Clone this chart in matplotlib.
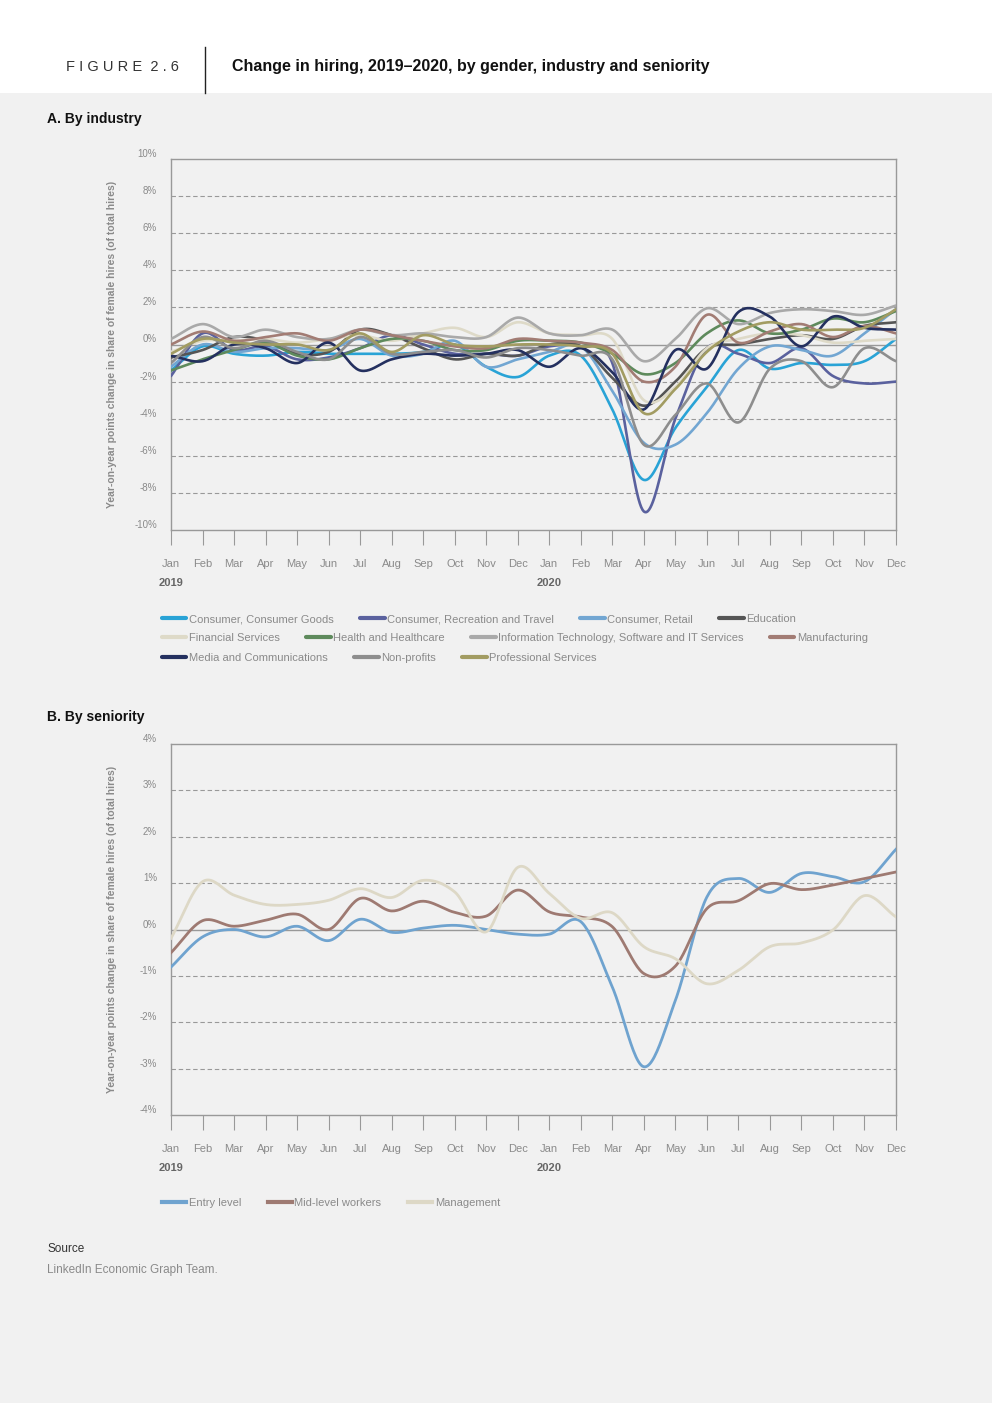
import matplotlib
matplotlib.use('Agg')

import matplotlib.pyplot as plt
import numpy as np
from matplotlib.lines import Line2D

plt.rcParams['font.family'] = ['Liberation Sans', 'DejaVu Sans']

# months shown on the x axis (Jan 2019 .. Dec 2020)
months = ['Jan', 'Feb', 'Mar', 'Apr', 'May', 'Jun', 'Jul', 'Aug', 'Sep', 'Oct', 'Nov', 'Dec'] * 2
years = ['2019', '2020']

# A. By industry (percentage points)
industry_names = [
	'Consumer, Consumer Goods', 'Consumer, Recreation and Travel', 'Consumer, Retail', 'Education',
	'Financial Services', 'Health and Healthcare', 'Information Technology, Software and IT Services', 'Manufacturing',
	'Media and Communications', 'Non-profits', 'Professional Services',
]
consumer_goods = [-1.4, -0.1, -0.5, -0.6, -0.4, -0.5, -0.5, -0.5, -0.4, 0.0, -1.2, -1.75,
				  -0.6, -0.6, -3.5, -7.3, -4.5, -2.3, -0.3, -1.3, -1.0, -1.1, -0.9, 0.3]
recreation = [-1.7, 0.6, -0.3, -0.1, -0.8, -0.7, -0.2, 0.5, 0.0, -0.5, -0.5, -0.6,
			  -0.1, -0.1, -1.0, -9.0, -4.0, -0.2, -0.5, -1.0, -0.2, -1.7, -2.1, -2.0]
retail = [-1.2, 0.0, -0.4, -0.2, -0.2, -0.3, 0.3, -0.6, -0.5, 0.2, -1.2, -0.8,
		  -0.4, -0.1, -2.5, -5.3, -5.4, -3.7, -1.3, -0.1, -0.3, -0.6, 0.6, 1.9]
education = [-0.7, -0.3, 0.4, 0.2, -0.5, -0.4, 0.8, 0.5, -0.2, -0.8, -0.5, -0.6,
			 0.0, -0.1, -1.8, -3.3, -2.0, -0.2, 0.0, 0.3, 0.5, 0.3, 1.0, 1.2]
financial = [-0.4, 0.2, 0.2, 0.3, 0.1, 0.3, 0.5, 0.2, 0.6, 0.9, 0.4, 1.2,
			 0.6, 0.5, 0.3, -3.0, -2.3, -0.2, 0.3, 0.6, 0.5, 0.1, 0.2, 0.3]
health = [-1.4, -0.8, -0.3, 0.1, -0.6, -0.8, -0.2, 0.3, 0.2, -0.3, -0.3, 0.2,
		  0.2, 0.1, -0.5, -1.6, -1.0, 0.6, 1.3, 0.6, 0.8, 1.4, 1.2, 1.8]
info_tech = [0.3, 1.1, 0.4, 0.8, 0.4, 0.3, 0.8, 0.5, 0.6, 0.4, 0.4, 1.45,
			 0.6, 0.5, 0.8, -0.9, 0.3, 1.95, 1.1, 1.7, 1.9, 1.8, 1.6, 2.1]
manufacturing = [0.0, 0.7, 0.2, 0.4, 0.6, 0.2, 0.8, 0.5, 0.2, -0.1, -0.2, 0.3,
				 0.2, 0.1, -0.3, -2.0, -1.2, 1.6, 0.1, 0.7, 1.1, 0.4, 1.0, 0.6]
media = [-0.6, -0.9, 0.0, -0.2, -1.0, 0.1, -1.4, -0.8, -0.5, -0.6, -0.5, -0.3,
		 -1.2, -0.2, -1.5, -3.5, -0.3, -1.3, 1.75, 1.5, -0.1, 1.5, 0.9, 0.8]
non_profits = [-1.0, 0.4, -0.2, 0.2, -0.4, -0.8, 0.4, -0.5, -0.4, -0.3, -0.7, -0.2,
			   -0.3, -0.6, -0.8, -5.4, -3.8, -2.1, -4.2, -1.3, -0.9, -2.3, -0.2, -0.9]
professional = [-0.5, 0.3, 0.1, 0.0, 0.0, -0.3, 0.6, -0.4, 0.5, 0.0, -0.1, 0.0,
				0.0, -0.1, -0.5, -3.7, -2.4, -0.4, 0.7, 1.2, 0.8, 0.8, 0.9, 1.9]
industry_values = [consumer_goods, recreation, retail, education, financial, health,
				   info_tech, manufacturing, media, non_profits, professional]
industry_colors = ['#29a3d6', '#5a619e', '#72a6d2', '#555555', '#dedac8', '#5e8a5c',
				   '#a9a9a9', '#a27c74', '#24305f', '#8e8e8e', '#a29c62']

# B. By seniority (percentage points)
seniority_names = ['Entry level', 'Mid-level workers', 'Management']
entry_level = [-0.81, -0.16, 0.0, -0.16, 0.07, -0.24, 0.22, -0.06, 0.03, 0.09, 0.0, -0.1,
			   -0.1, 0.17, -1.24, -2.96, -1.53, 0.7, 1.1, 0.8, 1.21, 1.14, 1.03, 1.73]
mid_level = [-0.5, 0.19, 0.07, 0.2, 0.33, 0.0, 0.67, 0.4, 0.61, 0.37, 0.29, 0.85,
			 0.38, 0.27, 0.06, -0.95, -0.79, 0.45, 0.62, 0.99, 0.86, 0.96, 1.1, 1.24]
management = [-0.19, 1.03, 0.74, 0.54, 0.54, 0.63, 0.88, 0.69, 1.06, 0.81, -0.05, 1.34,
			  0.78, 0.24, 0.36, -0.37, -0.63, -1.17, -0.88, -0.37, -0.29, -0.01, 0.73, 0.27]
seniority_values = [entry_level, mid_level, management]
seniority_colors = ['#6fa3cf', '#9e7a72', '#ddd8c6']

W, H = 992, 1403
BG = '#f1f1f1'
GREY = '#8a8a8a'


def smooth(vals, n=24):
	# catmull-rom curve through the monthly points, like excel "smoothed line"
	y = np.asarray(vals, float)
	p = np.concatenate([[2 * y[0] - y[1]], y, [2 * y[-1] - y[-2]]])
	xs, ys = [], []
	t = np.linspace(0, 1, n, endpoint=False)
	for i in range(len(y) - 1):
		p0, p1, p2, p3 = p[i], p[i + 1], p[i + 2], p[i + 3]
		ys.append(0.5 * (2 * p1 + (-p0 + p2) * t + (2 * p0 - 5 * p1 + 4 * p2 - p3) * t ** 2
						 + (-p0 + 3 * p1 - 3 * p2 + p3) * t ** 3))
		xs.append(i + t)
	xs.append([len(y) - 1])
	ys.append([y[-1]])
	return np.concatenate(xs), np.concatenate(ys)


def fy(py):
	return 1 - py / H


def fx(px):
	return px / W


def setup_axes(ax, lim, step):
	ax.set_facecolor(BG)
	ax.set_xlim(0, 23)
	ax.set_ylim(-lim, lim)
	ticks = np.arange(-lim, lim + step / 2, step)
	ax.set_yticks(ticks)
	ax.set_yticklabels([f'{t:g}%' for t in ticks])
	for t in ticks:
		if abs(t) < 1e-9:
			ax.axhline(0, color='#999999', lw=1.0, zorder=1)
		elif abs(t) < lim:
			ax.axhline(t, color='#999999', lw=0.8, ls=(0, (4, 2.5)), zorder=1)
	for s in ax.spines.values():
		s.set_color('#999999')
		s.set_linewidth(1.0)
	ax.set_xticks(range(24))
	ax.set_xticklabels(months)
	ax.tick_params(axis='x', direction='out', length=11, width=0.8, color='#999999',
				   labelsize=8, labelcolor=GREY, pad=10)
	ax.tick_params(axis='y', length=0, labelsize=7, labelcolor=GREY, pad=10)
	for lbl in ax.get_yticklabels():
		lbl.set_verticalalignment('bottom')
	for i, yr in enumerate(years):
		ax.text(i * 12, -0.13, yr, transform=ax.get_xaxis_transform(), ha='center', va='top',
				fontsize=8, fontweight='bold', color='#666666')
	ax.set_ylabel('Year-on-year points change in share of female hires (of total hires)',
				  fontsize=7.5, fontweight='bold', color=GREY)
	ax.yaxis.set_label_coords(-0.074, 0.5)


fig = plt.figure(figsize=(W / 100, H / 100), dpi=100, facecolor=BG)

# white header band
fig.patches.append(plt.Rectangle((0, fy(93)), 1, 93 / H, transform=fig.transFigure,
								 facecolor='white', edgecolor='none', zorder=0))
fig.add_artist(Line2D([fx(205), fx(205)], [fy(47), fy(93)], color='#222222', lw=1.0))
fig.text(fx(66), fy(67), 'F I G U R E  2 . 6', fontsize=10.5, color='#333333', va='center')
fig.text(fx(232), fy(67), 'Change in hiring, 2019\u20132020, by gender, industry and seniority',
		 fontsize=11.5, fontweight='bold', color='#111111', va='center')

fig.text(fx(47), fy(119), 'A. By industry', fontsize=10, fontweight='bold', color='#111111', va='center')
fig.text(fx(47), fy(717), 'B. By seniority', fontsize=10, fontweight='bold', color='#111111', va='center')

# panel A
axA = fig.add_axes([fx(171), fy(530), fx(896 - 171), (530 - 159) / H])
setup_axes(axA, 10, 2)
handlesA = []
for name, vals, col in zip(industry_names, industry_values, industry_colors):
	xs, ys = smooth(vals)
	ln, = axA.plot(xs, ys, color=col, lw=1.9, label=name, zorder=3, solid_capstyle='round')
	handlesA.append(ln)

rows = [handlesA[0:4], handlesA[4:8], handlesA[8:11]]
row_y = [619, 638, 658]
for hs, ry in zip(rows, row_y):
	leg = fig.legend(handles=hs, loc='center left', bbox_to_anchor=(fx(162), fy(ry)), ncol=len(hs),
					 frameon=False, fontsize=8, labelcolor=GREY, handlelength=2.2, handletextpad=0.2,
					 columnspacing=2.4, borderpad=0, borderaxespad=0)
	for l in leg.get_lines():
		l.set_linewidth(3)

# panel B
axB = fig.add_axes([fx(171), fy(1115), fx(896 - 171), (1115 - 744) / H])
setup_axes(axB, 4, 1)
handlesB = []
for name, vals, col in zip(seniority_names, seniority_values, seniority_colors):
	xs, ys = smooth(vals)
	ln, = axB.plot(xs, ys, color=col, lw=2.0, label=name, zorder=3)
	handlesB.append(ln)
legB = fig.legend(handles=handlesB, loc='center left', bbox_to_anchor=(fx(162), fy(1203)), ncol=3,
				  frameon=False, fontsize=8, labelcolor=GREY, handlelength=2.2, handletextpad=0.2,
				  columnspacing=2.4, borderpad=0, borderaxespad=0)
for l in legB.get_lines():
	l.set_linewidth(3)

fig.text(fx(47), fy(1249), 'Source', fontsize=8.5, color='#333333', va='center')
fig.text(fx(47), fy(1270), 'LinkedIn Economic Graph Team.', fontsize=8.5, color=GREY, va='center')

fig.savefig('out.png', dpi=100, facecolor=BG)
